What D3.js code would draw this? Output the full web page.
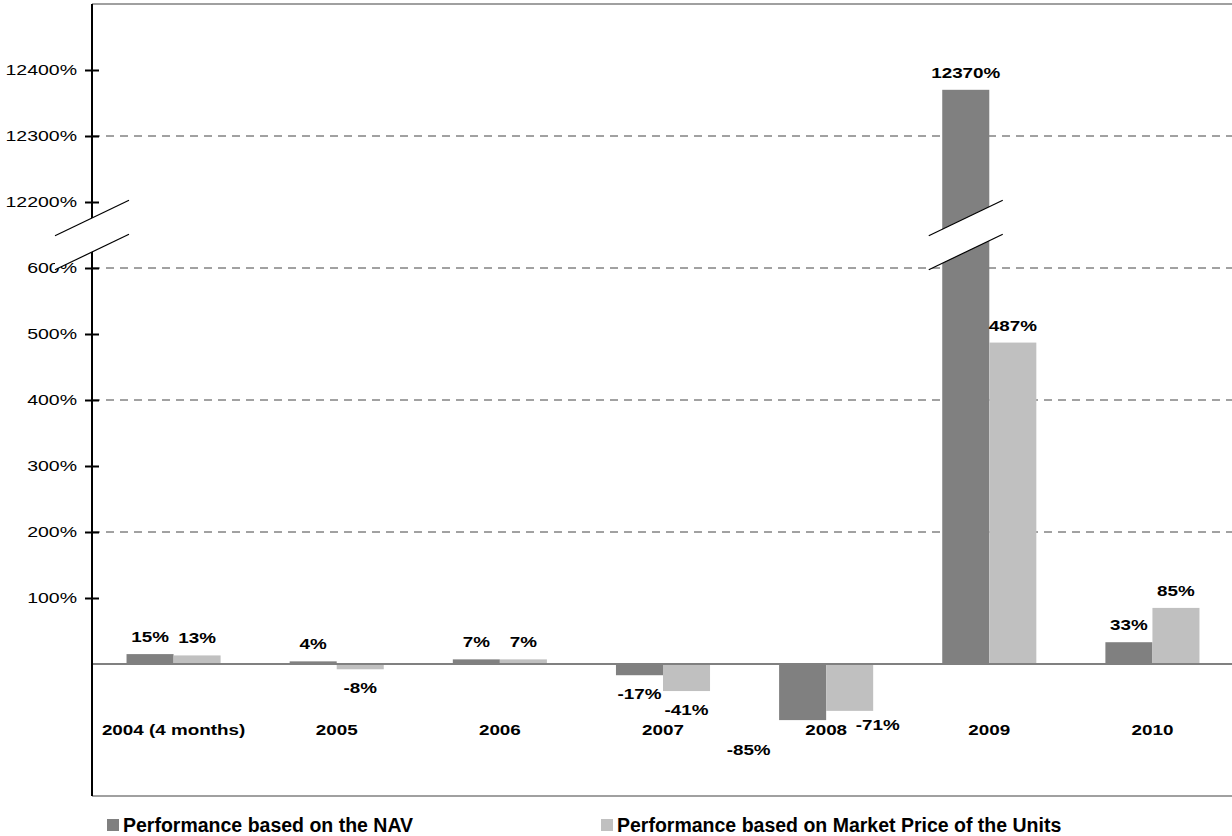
<!DOCTYPE html>
<html>
<head>
<meta charset="utf-8">
<script src="https://cdn.jsdelivr.net/npm/d3@7"></script>
<style>
  html, body { margin: 0; padding: 0; background: #fff; }
  svg { display: block; font-family: "Liberation Sans", Arial, sans-serif; }
</style>
</head>
<body>
<svg id="chart" width="1232" height="836"></svg>
<script>
// ---- data ----
const categories = ["2004 (4 months)", "2005", "2006", "2007", "2008", "2009", "2010"];
const navValues = [15, 4, 7, -17, -85, 12370, 33];
const marketValues = [13, -8, 7, -41, -71, 487, 85];
const seriesNames = ["Performance based on the NAV", "Performance based on Market Price of the Units"];
const lowerTicks = [100, 200, 300, 400, 500, 600];
const upperTicks = [12200, 12300, 12400];
const gridValues = [200, 400, 600, 12300];
const breakLow = 600;      // last value of the lower segment
const breakHigh = 12200;   // first tick of the upper segment
const breakShift = 11500;  // upper segment drawn as value - shift

// ---- layout ----
const W = 1232, H = 836;
const pLeft = 92, pRight = 1234, pTop = 4, pBottom = 796;
const colors = ["#808080", "#c0c0c0"];
const SX = 1.3;

const svg = d3.select("#chart");

const base = d3.scaleLinear().domain([-200, 1000]).range([pBottom, pTop]);
const upperScale = d3.scaleLinear().domain([-200 + breakShift, 1000 + breakShift]).range([pBottom, pTop]);
const y = v => (v >= breakHigh - 100 ? upperScale(v) : base(v));
const breakCenter = base((breakLow + breakHigh - breakShift) / 2); // midway between 600 and 12200

const x0 = d3.scaleBand().domain(categories).range([pLeft, pRight]).paddingInner(0).paddingOuter(0);
const x1 = d3.scaleBand().domain([0, 1]).range([0, x0.bandwidth()]).paddingInner(0).paddingOuter(0.734);

function stretch(sel) {
  sel.each(function () {
    const t = d3.select(this);
    const xx = +t.attr("x") || 0;
    t.attr("transform", `translate(${xx},0) scale(${SX},1) translate(${-xx},0)`);
  });
}

// frame
svg.append("line").attr("x1", pLeft).attr("x2", W).attr("y1", pTop).attr("y2", pTop)
  .attr("stroke", "#808080").attr("stroke-width", 1.5);
svg.append("line").attr("x1", pLeft).attr("x2", W).attr("y1", pBottom).attr("y2", pBottom)
  .attr("stroke", "#808080").attr("stroke-width", 1.5);

// gridlines
svg.append("g").selectAll("line").data(gridValues).join("line")
  .attr("x1", pLeft).attr("x2", W)
  .attr("y1", d => y(d)).attr("y2", d => y(d))
  .attr("stroke", "#444").attr("stroke-width", 1).attr("stroke-dasharray", "8,6");

// bars
const series = [navValues, marketValues];
const groups = svg.append("g").selectAll("g").data(categories).join("g")
  .attr("transform", d => `translate(${x0(d)},0)`);

groups.selectAll("rect").data((c, i) => series.map((s, k) => ({ k, v: s[i] }))).join("rect")
  .attr("x", d => x1(d.k))
  .attr("width", x1.bandwidth())
  .attr("y", d => Math.min(y(d.v), y(0)))
  .attr("height", d => Math.abs(y(d.v) - y(0)))
  .attr("fill", d => colors[d.k]);

// zero line
svg.append("line").attr("x1", pLeft).attr("x2", W).attr("y1", y(0)).attr("y2", y(0))
  .attr("stroke", "#808080").attr("stroke-width", 2);

// break marks
function breakMark(cx, cy) {
  const hw = 37, slope = 0.48, hg = 17;
  const g = svg.append("g");
  const pts = [
    [cx - hw, cy - hg + hw * slope], [cx + hw, cy - hg - hw * slope],
    [cx + hw, cy + hg - hw * slope], [cx - hw, cy + hg + hw * slope]
  ];
  g.append("polygon").attr("points", pts.map(p => p.join(",")).join(" ")).attr("fill", "#fff");
  g.append("line").attr("x1", pts[0][0]).attr("y1", pts[0][1]).attr("x2", pts[1][0]).attr("y2", pts[1][1])
    .attr("stroke", "#000").attr("stroke-width", 1.2);
  g.append("line").attr("x1", pts[3][0]).attr("y1", pts[3][1]).attr("x2", pts[2][0]).attr("y2", pts[2][1])
    .attr("stroke", "#000").attr("stroke-width", 1.2);
}

// axis line
svg.append("line").attr("x1", pLeft).attr("x2", pLeft).attr("y1", pTop).attr("y2", pBottom)
  .attr("stroke", "#000").attr("stroke-width", 2);

function drawAxis(scale, ticks) {
  const g = svg.append("g").attr("transform", `translate(${pLeft},0)`)
    .call(d3.axisLeft(scale).tickValues(ticks).tickFormat(d => d + "%").tickSize(7).tickPadding(8));
  g.select(".domain").remove();
  g.selectAll(".tick line").attr("x1", -7).attr("x2", 7).attr("stroke", "#000").attr("stroke-width", 2);
  g.selectAll(".tick text").attr("font-size", 15).attr("fill", "#000")
    .attr("font-family", "Liberation Sans, Arial, sans-serif").attr("x", -15);
  stretch(g.selectAll(".tick text"));
}
drawAxis(base, lowerTicks);
drawAxis(upperScale, upperTicks);

breakMark(pLeft, breakCenter);
const iMax = navValues.indexOf(d3.max(navValues));
breakMark(x0(categories[iMax]) + x1(0) + x1.bandwidth() / 2, breakCenter);

// value labels
const labels = [];
categories.forEach((c, i) => {
  series.forEach((s, k) => {
    const v = s[i];
    const cx = x0(c) + x1(k) + x1.bandwidth() / 2;
    let lx = cx, ly;
    if (v >= 0) {
      ly = y(v) - 12;
    } else if (v < -60) {
      // deep negative bars: labels set beside the bar, clear of the category label
      if (k === 0) { lx = cx - 54; ly = y(v) + 35; }
      else { lx = cx + 28; ly = y(v) + 19; }
    } else {
      ly = y(v) + 24;
    }
    labels.push({ v, lx, ly });
  });
});
const lt = svg.append("g").selectAll("text").data(labels).join("text")
  .attr("x", d => d.lx).attr("y", d => d.ly)
  .attr("text-anchor", "middle").attr("font-size", 14.5).attr("font-weight", "bold")
  .text(d => d.v + "%");
stretch(lt);

// category labels
const ct = svg.append("g").selectAll("text").data(categories).join("text")
  .attr("x", d => x0(d) + x0.bandwidth() / 2).attr("y", y(0) + 71)
  .attr("text-anchor", "middle").attr("font-size", 14.5).attr("font-weight", "bold")
  .text(d => d);
stretch(ct);

// legend
const legendX = [107, 601];
const lg = svg.append("g").selectAll("g").data(seriesNames).join("g")
  .attr("transform", (d, i) => `translate(${legendX[i]},0)`);
lg.append("rect").attr("x", 0).attr("y", 819).attr("width", 12).attr("height", 12)
  .attr("fill", (d, i) => colors[i]);
lg.append("text").attr("x", 16).attr("y", 832).attr("font-size", 19.5).attr("font-weight", "bold")
  .text(d => d);
</script>
</body>
</html>
